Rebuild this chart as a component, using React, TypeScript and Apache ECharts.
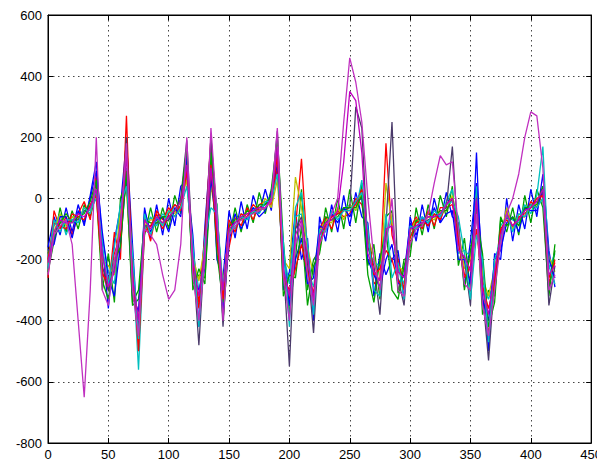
import React, { useEffect, useRef } from "react";
import * as echarts from "echarts";

const xs = [0, 5, 10, 15, 20, 25, 30, 35, 40, 45, 50, 55, 60, 65, 70, 75, 80, 85, 90, 95, 100, 105, 110, 115, 120, 125, 130, 135, 140, 145, 150, 155, 160, 165, 170, 175, 180, 185, 190, 195, 200, 205, 210, 215, 220, 225, 230, 235, 240, 245, 250, 255, 260, 265, 270, 275, 280, 285, 290, 295, 300, 305, 310, 315, 320, 325, 330, 335, 340, 345, 350, 355, 360, 365, 370, 375, 380, 385, 390, 395, 400, 405, 410, 415, 420];

const xTicks = [0, 50, 100, 150, 200, 250, 300, 350, 400, 450];
const yTicks = [-800, -600, -400, -200, 0, 200, 400, 600];

const blue1 = [-160, -60, -120, -30, -110, -20, -90, 10, 120, -150, -360, -140, -30, 190, -150, -480, -30, -130, -20, -120, 0, -90, 40, 60, -120, -420, -90, 180, -200, -260, -40, -130, -10, -100, 10, -50, 30, -40, 150, -300, -240, -40, -200, -130, -400, -60, -140, -20, -110, 10, -90, 20, -60, -80, -320, -180, -250, -200, -170, -330, -60, -140, -20, -110, 0, -80, 20, -60, -80, -290, -140, 50, -220, -500, -180, -200, 0, -140, -20, -100, 30, -60, 80, -170, -290];
const green1 = [-240, -140, -30, -110, -40, -100, -20, -60, 20, -300, -180, -340, 0, 60, -350, -330, -120, -30, -110, -30, -100, 10, -50, 150, -280, -250, -260, 50, -20, -400, -130, -30, -110, -20, -80, 20, -50, 30, 200, -140, -380, -200, 30, -300, -200, -170, -30, -110, 0, -100, 30, -80, 50, -220, -150, -330, -60, -40, -310, -200, -190, -30, -120, -20, -100, 10, -60, 40, -220, -130, -300, -30, -380, -300, -320, -60, -110, -30, -120, 10, -80, 30, -30, -320, -150];
const red1 = [-260, -40, -100, -60, -120, -50, -10, -70, 80, -240, -300, -110, -200, 270, -280, -420, -60, -140, -40, -70, -30, -60, -20, 120, -220, -340, -120, 200, -60, -300, -160, -60, -90, -30, -70, -20, -10, -20, 100, -250, -330, -100, 130, -180, -350, -100, -60, -100, -40, -60, -50, 0, -20, -120, -280, -260, 180, -120, -200, -300, -100, -60, -100, -40, -90, -30, -30, -20, -120, -250, -260, 20, -250, -450, -230, -150, -40, -100, -60, -60, -10, -30, 20, -280, -200];
const cyan1 = [-190, -90, -50, -120, -60, -80, -40, -40, 0, -130, -240, -280, -60, 100, -200, -560, -100, -60, -90, -50, -70, -20, -40, 80, -170, -300, -200, 130, -30, -350, -80, -100, -50, -70, -30, -40, -20, 10, 170, -180, -280, -60, -50, -230, -290, -140, -80, -60, -50, -40, -20, -40, 60, -160, -210, -220, -130, -60, -230, -280, -120, -90, -70, -80, -50, -60, -10, 30, -180, -170, -190, 40, -280, -330, -260, -90, -60, -70, -80, -20, -50, 10, 170, -230, -180];
const magentaOut = [-250, -120, -90, -70, -150, -400, -650, -300, 200, -300, -350, -200, -100, 180, -300, -450, -100, -120, -150, -250, -330, -300, -150, 200, -250, -400, -200, 230, -50, -400, -120, -90, -70, -60, -50, -40, -30, -10, 230, -250, -400, -150, -80, -250, -350, -150, -100, -50, 0, 250, 460, 380, 250, 0, -200, -300, -150, 0, -300, -320, -150, -100, -90, -50, 50, 140, 110, 120, -100, -280, -300, -50, -350, -450, -300, -150, -50, 0, 80, 200, 283, 270, 100, -300, -250];
const yellow1 = [-210, -110, -50, -90, -60, -70, -30, -50, 40, -200, -220, -250, -40, 30, -300, -380, -90, -70, -70, -80, -40, -50, 0, 60, -190, -270, -150, 40, -80, -280, -110, -60, -70, -40, -50, -40, 0, -30, 60, -200, -230, 70, -30, -160, -250, -110, -70, -80, -30, -70, -20, -40, 20, -130, -190, -300, 50, -80, -220, -240, -110, -70, -80, -60, -70, -40, -40, 10, -100, -230, -200, -20, -260, -320, -230, -130, -30, -100, -50, -60, -20, -20, 0, -190, -240];
const dark1 = [-230, -130, -80, -80, -70, -70, -40, -30, 50, -220, -300, -230, -120, 200, -230, -430, -90, -90, -80, -80, -70, -40, 0, 190, -190, -480, -150, 200, -70, -420, -90, -80, -60, -50, -40, -30, -20, 0, 220, -210, -550, -100, -60, -210, -440, -120, -80, -60, -50, -40, -30, 300, 230, -160, -220, -380, -90, 250, -260, -350, -90, -100, -80, -70, -60, -50, -30, 170, -150, -200, -350, 0, -310, -530, -260, -110, -60, -90, -70, -40, -20, -10, 20, -350, -220];
const blue2 = [-170, -150, -60, -60, -130, -40, -80, 0, 90, -110, -260, -320, -150, 80, -320, -370, -40, -110, -70, -60, -110, -30, -60, 140, -260, -300, -230, 70, -120, -370, -140, -50, -100, -60, -30, -60, -40, 20, 110, -170, -350, -200, -130, -280, -260, -90, -100, -50, -80, -30, -60, -10, 0, -200, -250, -290, -200, -150, -280, -250, -80, -120, -60, -90, -30, -80, -50, -40, -200, -200, -280, 150, -330, -400, -200, -170, -80, -60, -110, -30, -40, -40, 40, -200, -260];
const red2 = [-200, -80, -90, -100, -50, -60, -70, -20, 10, -250, -270, -180, -120, 150, -210, -500, -110, -90, -50, -100, -50, -20, -40, 90, -210, -360, -160, 110, -140, -330, -70, -110, -50, -60, -20, -40, -30, -10, 140, -260, -300, -230, -150, -240, -310, -150, -90, -60, -50, -40, -40, -20, 30, -110, -250, -230, -170, -200, -270, -290, -130, -80, -70, -90, -50, -70, -20, 0, -140, -260, -220, -100, -290, -360, -280, -100, -70, -90, -60, -50, -30, 0, 10, -260, -210];
const magenta2 = [-210, -110, -70, -80, -80, -50, -60, -30, 30, -180, -290, -240, -80, 140, -260, -400, -70, -100, -60, -80, -60, -40, -10, 110, -200, -320, -170, 100, -90, -300, -100, -80, -60, -50, -40, -30, -30, 0, 170, -230, -320, -120, -70, -190, -330, -120, -80, -70, -40, 120, 350, 320, 150, -180, -240, -270, -100, -90, -240, -260, -100, -90, -80, -60, -60, -50, -20, 0, -170, -190, -240, 0, -300, -380, -240, -120, -50, -90, -70, -40, -30, -10, 30, -250, -220];
const green2 = [-180, -130, -80, -50, -80, -60, -50, -10, 60, -270, -330, -200, -160, 90, -340, -300, -70, -80, -80, -60, -60, -40, -10, 170, -300, -230, -280, 150, -180, -340, -90, -70, -70, -40, -50, -20, -20, 10, 180, -320, -250, -260, -90, -350, -220, -180, -60, -70, -60, -30, -30, -30, 10, -250, -340, -200, -100, -300, -330, -220, -160, -70, -90, -50, -60, -40, -40, 0, -90, -300, -170, -60, -180, -420, -340, -70, -90, -60, -90, -30, -30, -20, 40, -300, -170];
const cyan2 = [-230, -70, -110, -70, -70, -80, -30, -50, 30, -160, -280, -160, -20, 40, -180, -460, -50, -120, -60, -90, -40, -60, -30, 40, -150, -420, -130, -30, -50, -290, -120, -80, -60, -70, -40, -50, -10, -10, 80, -140, -420, -30, 20, -150, -380, -100, -110, -40, -70, -40, -40, -10, 20, -100, -300, -320, -50, -260, -210, -330, -90, -100, -60, -80, -40, -60, -20, -10, -60, -180, -330, -120, -200, -470, -200, -140, -50, -110, -50, -60, -20, -30, 0, -220, -280];

const seriesList = [
  { name: "s1", values: blue1, color: "#0000FF" },
  { name: "s2", values: green1, color: "#00A000" },
  { name: "s3", values: red1, color: "#FF0000" },
  { name: "s4", values: cyan1, color: "#00BFBF" },
  { name: "s6", values: yellow1, color: "#BFBF00" },
  { name: "s7", values: dark1, color: "#4A3A6A" },
  { name: "s8", values: blue2, color: "#0000FF" },
  { name: "s11", values: green2, color: "#00A000" },
  { name: "s9", values: red2, color: "#FF0000" },
  { name: "s12", values: cyan2, color: "#00BFBF" },
  { name: "s10", values: magenta2, color: "#BF00BF" },
  { name: "s5", values: magentaOut, color: "#C030C0" },
];

export default function App() {
  const ref = useRef<HTMLDivElement>(null);
  useEffect(() => {
    if (!ref.current) return;
    const chart = echarts.init(ref.current, undefined, { renderer: "svg" });
    const labelStyle = { color: "#000", fontSize: 13, fontFamily: "Liberation Sans, Arial, sans-serif" };
    const split = { show: true, lineStyle: { color: "#444", type: [1.5, 3.5] as any, width: 1 } };
    chart.setOption({
      animation: false,
      backgroundColor: "#fff",
      grid: { left: 48, top: 15, right: 12, bottom: 23, show: true, borderColor: "#000", borderWidth: 1, backgroundColor: "transparent" },
      xAxis: [
        {
          type: "value", min: xTicks[0], max: xTicks[xTicks.length - 1], interval: 50,
          axisLine: { show: true, onZero: false, lineStyle: { color: "#000" } },
          axisTick: { show: true, inside: true, length: 5, lineStyle: { color: "#000" } },
          axisLabel: { ...labelStyle, margin: 5 },
          splitLine: split,
        },
        {
          type: "value", position: "top", min: xTicks[0], max: xTicks[xTicks.length - 1], interval: 50,
          axisLine: { show: true, onZero: false, lineStyle: { color: "#000" } },
          axisTick: { show: true, inside: true, length: 5, lineStyle: { color: "#000" } },
          axisLabel: { show: false }, splitLine: { show: false },
        },
      ],
      yAxis: [
        {
          type: "value", min: yTicks[0], max: yTicks[yTicks.length - 1], interval: 200,
          axisLine: { show: true, onZero: false, lineStyle: { color: "#000" } },
          axisTick: { show: true, inside: true, length: 5, lineStyle: { color: "#000" } },
          axisLabel: { ...labelStyle, margin: 6 },
          splitLine: split,
        },
        {
          type: "value", position: "right", min: yTicks[0], max: yTicks[yTicks.length - 1], interval: 200,
          axisLine: { show: true, onZero: false, lineStyle: { color: "#000" } },
          axisTick: { show: true, inside: true, length: 5, lineStyle: { color: "#000" } },
          axisLabel: { show: false }, splitLine: { show: false },
        },
      ],
      series: seriesList.map((s) => ({
        name: s.name,
        type: "line",
        xAxisIndex: 0,
        yAxisIndex: 0,
        showSymbol: false,
        symbol: "none",
        data: xs.map((x, i) => [x, s.values[i]]),
        lineStyle: { color: s.color, width: 1.3 },
        itemStyle: { color: s.color },
      })),
    });
    return () => chart.dispose();
  }, []);
  return <div ref={ref} style={{ width: 605, height: 466, marginLeft: -8, marginTop: -8 }} />;
}
